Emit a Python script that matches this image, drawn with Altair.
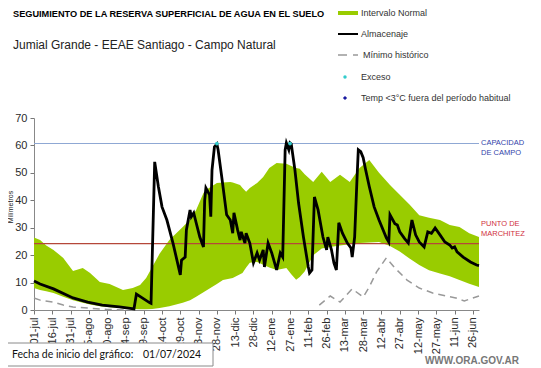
import altair as alt
import pandas as pd

# ---- data (day index from 01-jul-2024, millimetres) ----
tick_labels = ["01-jul", "16-jul", "31-jul", "15-ago", "30-ago", "14-sep", "29-sep",
               "14-oct", "29-oct", "13-nov", "28-nov", "13-dic", "28-dic", "12-ene",
               "27-ene", "11-feb", "26-feb", "13-mar", "28-mar", "12-abr", "27-abr",
               "12-may", "27-may", "11-jun", "26-jun"]

band_days = [0, 5, 10, 16, 24, 32, 40, 46, 54, 62, 73, 81, 87, 92, 97, 103, 111, 122, 128, 133,
             139, 142, 150, 155, 161, 163, 169, 171, 174, 177, 183, 188, 193, 199, 207, 211, 215,
             218, 222, 229, 236, 243, 251, 259, 267, 275, 283, 292, 300, 308, 316, 324, 333, 341,
             349, 357, 365]
band_hi = [26.4, 25.5, 23.5, 21.9, 19.0, 14.2, 15.3, 13.5, 10.2, 9.5, 7.3, 8.0, 9.1, 11.7, 15.7,
           20.5, 25.5, 30.3, 33.0, 36.5, 42.7, 44.0, 46.3, 46.5, 46.7, 46.5, 45.6, 44.5, 43.1,
           44.5, 46.3, 48.5, 51.8, 53.6, 53.3, 52.5, 51.8, 51.5, 49.5, 46.7, 50.4, 46.7, 49.3,
           46.7, 51.8, 54.7, 50.0, 45.6, 42.0, 38.5, 34.5, 33.6, 32.8, 31.0, 30.3, 28.0, 26.6]
band_lo = [8.0, 7.3, 6.8, 6.2, 4.8, 3.6, 2.6, 2.0, 1.4, 1.0, 0.6, 0.4, 0.3, 0.3, 0.4, 0.7, 1.4,
           2.6, 3.6, 4.8, 6.5, 7.3, 9.5, 10.9, 11.5, 11.7, 13.0, 13.5, 15.5, 17.2, 17.5, 16.5,
           15.5, 14.6, 15.3, 13.0, 11.0, 12.0, 14.0, 20.0, 22.4, 23.0, 23.5, 24.0, 24.4, 24.6,
           24.8, 23.3, 21.3, 18.8, 16.4, 14.5, 13.3, 12.3, 10.9, 9.6, 8.4]

min_days = [0, 5, 16, 24, 32, 44, 60, 75,
            234, 243, 251, 261, 270, 275, 281, 289, 296, 306, 316, 327, 338, 346, 353, 360, 365]
min_vals = [4.4, 3.6, 2.9, 1.8, 1.1, 0.7, 0.2, 0.0,
            1.8, 5.1, 2.9, 7.7, 4.7, 8.4, 13.9, 19.0, 15.3, 10.9, 8.0, 6.2, 5.1, 4.4, 3.3, 4.4, 5.1]
min_segment = [1] * 8 + [2] * 17

st_days = [0, 5, 16, 32, 44, 56, 70, 82, 84, 95, 96, 99, 102, 105, 109, 114, 120, 121, 124, 125,
           128, 129, 131, 133, 136, 139, 140, 141, 144, 145, 146, 148, 150, 151, 154, 158, 161,
           163, 164, 167, 169, 170, 173, 174, 177, 180, 183, 185, 188, 189, 192, 195, 199, 202,
           204, 206, 207, 209, 210, 211, 214, 217, 221, 225, 226, 228, 230, 233, 237, 240, 241,
           244, 246, 248, 250, 253, 257, 260, 261, 263, 265, 266, 268, 270, 272, 275, 279, 283,
           289, 291, 292, 296, 298, 300, 304, 307, 310, 313, 316, 320, 323, 326, 329, 333, 337,
           341, 343, 345, 347, 352, 358, 363, 365]
st_vals = [10.6, 9.5, 7.7, 4.4, 2.9, 1.8, 1.1, 0.4, 5.8, 2.6, 2.4, 54.0, 45.0, 37.6, 32.8, 24.4,
           12.8, 18.2, 19.3, 29.2, 36.5, 34.0, 35.4, 31.8, 26.6, 23.0, 40.0, 44.5, 42.0, 34.0,
           51.0, 59.5, 60.5, 58.4, 48.5, 34.7, 32.8, 28.0, 35.4, 29.2, 25.5, 28.5, 24.4, 28.0,
           24.4, 17.2, 20.8, 18.2, 21.9, 15.7, 24.4, 20.8, 14.6, 20.8, 19.3, 58.4, 60.9, 58.4,
           60.9, 60.5, 51.1, 39.0, 26.6, 15.7, 13.5, 14.6, 41.2, 36.5, 26.6, 21.9, 26.6, 21.9,
           17.2, 14.6, 31.8, 28.0, 24.4, 22.6, 19.3, 26.6, 48.5, 58.4, 57.7, 55.5, 51.1, 45.0,
           37.6, 32.8, 26.3, 24.8, 34.7, 31.5, 31.0, 28.5, 26.0, 24.4, 32.8, 27.4, 24.8, 23.0,
           28.5, 28.0, 29.9, 27.4, 24.8, 23.7, 22.6, 23.0, 21.2, 19.3, 17.5, 16.4, 16.2]

capacidad = 60.7
marchitez = 24.2
exceso_days = [150, 210]
exceso_vals = [60.7, 60.7]

# ---- tables ----
band = pd.DataFrame({"day": band_days, "hi": band_hi, "lo": band_lo})
minimo = pd.DataFrame({"day": min_days, "v": min_vals, "seg": min_segment})
store = pd.DataFrame({"day": st_days, "v": st_vals})
exceso = pd.DataFrame({"day": exceso_days, "v": exceso_vals})
cap_df = pd.DataFrame({"v": [capacidad]})
pm_df = pd.DataFrame({"v": [marchitez]})

FONT = "Liberation Sans"
label_arr = "[" + ",".join("'" + t + "'" for t in tick_labels) + "]"

xscale = alt.Scale(domain=[0, 365], nice=False, zero=False)
yscale = alt.Scale(domain=[0, 70], nice=False)

xaxis = alt.Axis(values=list(range(0, 361, 15)), labelExpr=label_arr + "[round(datum.value/15)]",
                 labelAngle=-90, labelFontSize=11, labelColor="#2a2a2a", labelFont=FONT,
                 tickColor="#777777", tickSize=4, domainColor="#888888", grid=False, title=None,
                 labelPadding=3, labelOverlap=False, labelFlush=False)
yaxis = alt.Axis(values=list(range(0, 71, 10)), labelFontSize=11, labelColor="#2a2a2a",
                 labelFont=FONT, tickColor="#777777", tickSize=4, domainColor="#888888",
                 grid=False, title=None, labelPadding=3, labelOverlap=False, labelFlush=False)


def X(f="day:Q"):
    return alt.X(f, scale=xscale, axis=xaxis)


def Y(f):
    return alt.Y(f, scale=yscale, axis=yaxis)


area = alt.Chart(band).mark_area(color="#99cc00", opacity=1).encode(
    x=X(), y=Y("hi:Q"), y2="lo:Q")

minline = alt.Chart(minimo).mark_line(color="#999999", strokeWidth=1.5, strokeDash=[7, 5]).encode(
    x=X(), y=Y("v:Q"), detail="seg:N")

cap_rule = alt.Chart(cap_df).mark_rule(color="#8fa8d4", strokeWidth=1.2).encode(y=Y("v:Q"))
pm_rule = alt.Chart(pm_df).mark_rule(color="#b5473a", strokeWidth=1.2).encode(y=Y("v:Q"))

stline = alt.Chart(store).mark_line(color="#000000", strokeWidth=2.8).encode(x=X(), y=Y("v:Q"))

expts = alt.Chart(exceso).mark_point(shape="circle", filled=True, color="#33cccc", size=14,
                                     opacity=1).encode(x=X(), y=Y("v:Q"))


def txt(s, x, y, size=9, color="#333333", bold=False, align="left", angle=0, font=FONT):
    kw = dict(text=s, align=align, baseline="middle", fontSize=size, color=color, font=font,
              fontWeight="bold" if bold else "normal")
    if angle:
        kw["angle"] = angle
    return alt.Chart(pd.DataFrame({"a": [0]})).mark_text(**kw).encode(
        x=alt.value(x), y=alt.value(y))


# page coords -> plot coords: px = X - 34, py = Y - 118
def P(x, y):
    return x - 34, y - 118


layers = [area, minline, pm_rule, cap_rule, stline, expts]

layers.append(txt("SEGUIMIENTO DE LA RESERVA SUPERFICIAL DE AGUA EN EL SUELO", *P(13, 14),
                  size=9.2, color="#000000", bold=True))
layers.append(txt("Jumial Grande - EEAE Santiago - Campo Natural", *P(13, 45), size=12,
                  color="#222222"))

# legend
one = pd.DataFrame({"a": [0]})
sx0, sy0 = P(338, 11)
sx1, sy1 = P(358, 15)
layers.append(alt.Chart(one).mark_rect(color="#99cc00").encode(
    x=alt.value(sx0), x2=alt.value(sx1), y=alt.value(sy0), y2=alt.value(sy1)))
layers.append(txt("Intervalo Normal", *P(361, 13)))
lx0, ly = P(338, 34)
lx1, _ = P(358, 34)
layers.append(alt.Chart(one).mark_rule(color="#000000", strokeWidth=2).encode(
    x=alt.value(lx0), x2=alt.value(lx1), y=alt.value(ly)))
layers.append(txt("Almacenaje", *P(361, 34)))
mx0, my = P(338, 55)
mx1, _ = P(358, 55)
layers.append(alt.Chart(one).mark_rule(color="#999999", strokeWidth=1.5, strokeDash=[9, 6]).encode(
    x=alt.value(mx0), x2=alt.value(mx1), y=alt.value(my)))
layers.append(txt("Mínimo histórico", *P(363, 55)))
ex, ey = P(345, 77)
layers.append(alt.Chart(one).mark_point(shape="circle", filled=True, color="#33cccc", size=12,
                                        opacity=1).encode(x=alt.value(ex), y=alt.value(ey)))
layers.append(txt("Exceso", *P(361, 77)))
tx, ty = P(345, 98)
layers.append(alt.Chart(one).mark_point(shape="diamond", filled=True, color="#1a1aa0", size=18,
                                        opacity=1).encode(x=alt.value(tx), y=alt.value(ty)))
layers.append(txt("Temp <3°C fuera del período habitual", *P(361, 98)))

# right labels
layers.append(txt("CAPACIDAD", *P(481, 143), size=7.5, color="#3344aa"))
layers.append(txt("DE  CAMPO", *P(481, 153), size=7.5, color="#3344aa"))
layers.append(txt("PUNTO  DE", *P(481, 224), size=7.5, color="#d03040"))
layers.append(txt("MARCHITEZ", *P(481, 234), size=7.5, color="#d03040"))

# y title
layers.append(txt("Milímetros", *P(11, 207), size=7, color="#222222", align="center", angle=270))

# bottom box
bx0, by0 = P(5, 343)
bx1, by1 = P(213, 366)
layers.append(alt.Chart(one).mark_rect(fill="#ffffff", stroke="#8a8a8a", strokeWidth=1).encode(
    x=alt.value(bx0), x2=alt.value(bx1), y=alt.value(by0), y2=alt.value(by1)))
layers.append(txt("Fecha de inicio del gráfico:", *P(12, 355), size=10.5, color="#111111",
                  font="Lato"))
layers.append(txt("01/07/2024", *P(143, 355), size=10.5, color="#111111", font="Lato"))
layers.append(txt("WWW.ORA.GOV.AR", *P(519, 361), size=10, color="#777777", bold=True,
                  align="right"))

chart = alt.layer(*layers).properties(
    width=445, height=192, autosize="none",
    padding={"left": 26, "top": 110, "right": 54, "bottom": 58},
    background="#ffffff",
).configure_view(stroke=None)

chart.save("out.html", embed_options={"renderer": "svg", "actions": False})
